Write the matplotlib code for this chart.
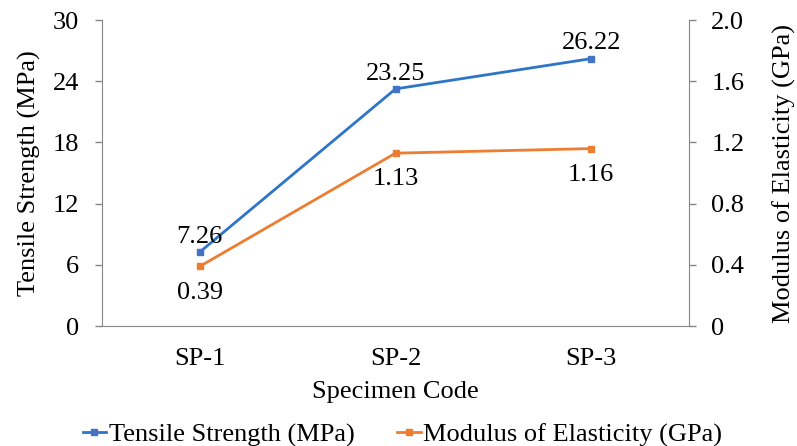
import matplotlib.pyplot as plt

# data
specimens = ["SP-1", "SP-2", "SP-3"]
tensile = [7.26, 23.25, 26.22]      # MPa
modulus = [0.39, 1.13, 1.16]        # GPa

blue = "#2E75C8"
orange = "#ED7D31"

plt.rcParams['font.family'] = ['Liberation Serif', 'DejaVu Serif']
plt.rcParams['font.size'] = 19

fig = plt.figure(figsize=(7.97, 4.46), dpi=100)
ax = fig.add_axes([0.128, 0.269, 0.7365, 0.686])
ax2 = ax.twinx()

x = list(range(len(specimens)))
l1, = ax.plot(x, tensile, color=blue, lw=2, marker='s', ms=5,
              mfc="#4472C4", mec="#4472C4", label="Tensile Strength (MPa)")
l2, = ax2.plot(x, modulus, color=orange, lw=2, marker='s', ms=5,
               label="Modulus of Elasticity (GPa)")

# data labels
for xi, v in zip(x, tensile):
    ax.annotate(f"{v:.2f}", (xi, v), xytext=(0, 3), textcoords='offset points',
                ha='center', va='bottom')
for xi, v in zip(x, modulus):
    ax2.annotate(f"{v:.2f}", (xi, v), xytext=(0, -11), textcoords='offset points',
                 ha='center', va='top')

ax.set_xlim(-0.5, 2.5)
ax.set_xticks(x)
ax.set_xticklabels(specimens)
ax.set_ylim(0, 30)
ax.set_yticks([0, 6, 12, 18, 24, 30])
ax2.set_ylim(0, 2.0)
ax2.set_yticks([0, 0.4, 0.8, 1.2, 1.6, 2.0])
ax2.set_yticklabels(["0", "0.4", "0.8", "1.2", "1.6", "2.0"])

ax.set_ylabel("Tensile Strength (MPa)", labelpad=8)
ax2.set_ylabel("Modulus of Elasticity (GPa)", labelpad=20)
ax.set_xlabel("Specimen Code", labelpad=8)

for a in (ax, ax2):
    for s in a.spines.values():
        s.set_color("#868686")
    a.spines['top'].set_visible(False)
    a.tick_params(colors="#868686", labelcolor="black", length=5, width=1)
ax.tick_params(axis='y', pad=11.5)
ax2.tick_params(axis='y', pad=11)
ax.tick_params(axis='x', length=0, pad=16)
ax2.spines['left'].set_visible(False)
ax2.spines['bottom'].set_visible(False)
ax.spines['right'].set_visible(False)

fig.legend(handles=[l1, l2], loc='lower center', bbox_to_anchor=(0.505, -0.055),
           ncol=2, frameon=False, handlelength=0.9, handletextpad=0.1,
           columnspacing=1.6)

fig.savefig("out.png", dpi=100)
